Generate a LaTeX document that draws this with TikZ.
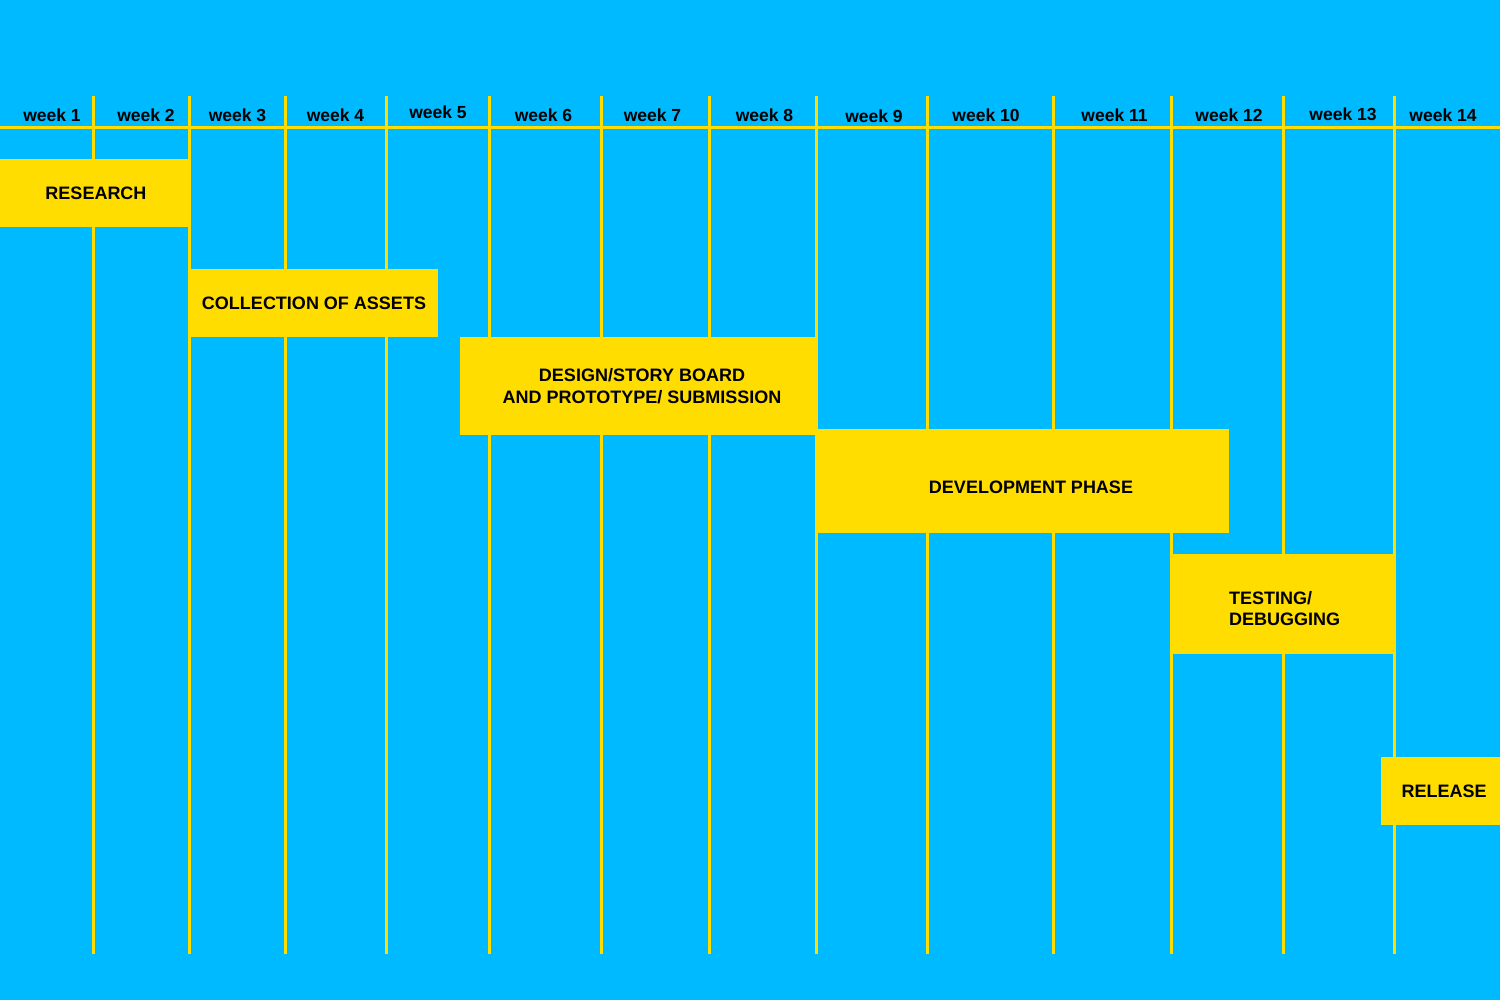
\documentclass[tikz,border=0pt]{standalone}
\usepackage{fontspec}
\setmainfont{Liberation Sans}
\definecolor{bg}{RGB}{0,186,255}
\definecolor{yl}{RGB}{255,221,0}
\begin{document}
\begin{tikzpicture}[x=1pt,y=-1pt,
  gridline/.style={yl, line width=3pt},
  taskbox/.style={fill=yl, draw=none, inner sep=0pt, anchor=north west},
  tasktext/.style={inner sep=0pt, font=\bfseries\fontsize{18}{21.5}\selectfont, text=black},
  wk/.style={inner sep=0pt, anchor=base, font=\bfseries\fontsize{17.5}{20}\selectfont, text=black}]
\fill[bg] (0,0) rectangle (1500,1000);
\useasboundingbox (0,0) rectangle (1500,1000);
% header line
\draw[gridline] (0,127.5) -- (1500,127.5);
% week separators
\foreach \x in {93,189,285,386,489,601,709,816,927,1053,1171,1283,1394}
  \draw[gridline] (\x,96) -- (\x,954);
% week labels
\node[wk] (w1) at (52,122) {week 1};
\node[wk] (w2) at (146,122) {week 2};
\node[wk] (w3) at (237.5,122) {week 3};
\node[wk] (w4) at (335.5,122) {week 4};
\node[wk] (w5) at (438,118.5) {week 5};
\node[wk] (w6) at (543.5,122) {week 6};
\node[wk] (w7) at (652.5,122) {week 7};
\node[wk] (w8) at (764.5,122) {week 8};
\node[wk] (w9) at (874,123) {week 9};
\node[wk] (w10) at (986,121.5) {week 10};
\node[wk] (w11) at (1114.5,122) {week 11};
\node[wk] (w12) at (1229,122) {week 12};
\node[wk] (w13) at (1343,120.5) {week 13};
\node[wk] (w14) at (1443,122) {week 14};
% task boxes
\node[taskbox, minimum width=189pt, minimum height=68pt] (research) at (0,159) {};
\node[tasktext] (researchT) at (96,193.5) {RESEARCH};
\node[taskbox, minimum width=249pt, minimum height=68pt] (assets) at (189,269) {};
\node[tasktext] (assetsT) at (314,303.5) {COLLECTION OF ASSETS};
\node[taskbox, minimum width=357pt, minimum height=98pt] (design) at (460,337) {};
\node[tasktext, align=center] (designT) at (642,386) {DESIGN/STORY BOARD\\AND PROTOTYPE/ SUBMISSION};
\node[taskbox, minimum width=413pt, minimum height=104pt] (dev) at (816,429) {};
\node[tasktext] (devT) at (1031,487.5) {DEVELOPMENT PHASE};
\node[taskbox, minimum width=224pt, minimum height=100pt] (test) at (1171,554) {};
\node[tasktext, align=left, anchor=west] (testT) at (1229,608.5) {TESTING/\\DEBUGGING};
\node[taskbox, minimum width=119pt, minimum height=68pt] (release) at (1381,757) {};
\node[tasktext] (releaseT) at (1444,791.5) {RELEASE};
\end{tikzpicture}
\end{document}
